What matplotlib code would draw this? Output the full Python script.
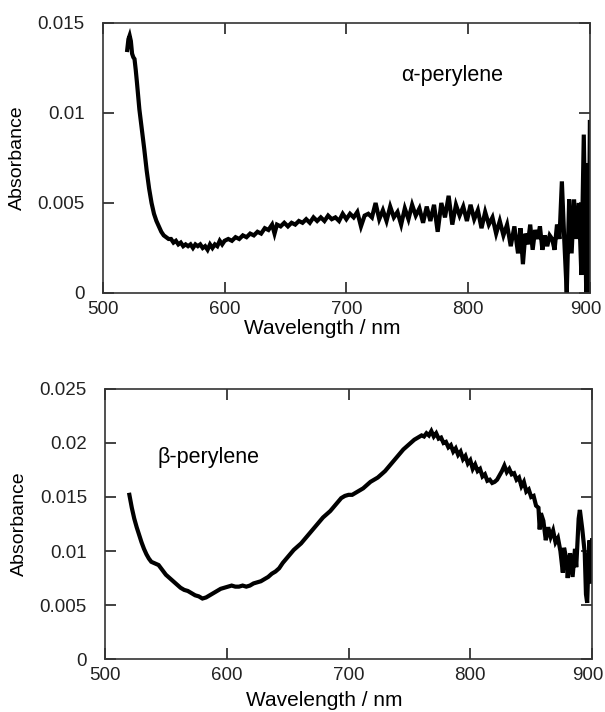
import matplotlib
matplotlib.use("Agg")
import matplotlib.pyplot as plt
import matplotlib.transforms as mtransforms
import numpy as np

plt.rcParams['font.family'] = ['Liberation Sans', 'DejaVu Sans']

# alpha-perylene spectrum
alpha_wl = [520, 521, 522, 523, 524, 525, 526, 527, 528, 530, 532, 534, 536, 538, 540,
            542, 544, 546, 548, 550, 552, 554, 556, 558, 560, 562, 564, 566, 568, 570,
            572, 574, 576, 578, 580, 582, 584, 586, 588, 590, 592, 594, 596, 598, 600,
            603, 606, 609, 612, 615, 618, 621, 624, 627, 630, 633, 636, 639, 641, 643,
            646, 649, 652, 655, 658, 661, 664, 667, 670, 673, 676, 679, 682, 685, 688,
            691, 694, 697, 700, 703, 706, 709, 712, 715, 718, 721, 724, 727, 730, 733,
            736, 739, 742, 745, 748, 751, 754, 757, 760, 763, 766, 769, 772, 775, 778,
            781, 784, 787, 790, 793, 796, 799, 802, 805, 808, 811, 814, 817, 820, 823,
            826, 829, 832, 835, 838, 841, 843, 845, 847, 849, 851, 853, 855, 857, 859,
            861, 863, 865, 867, 869, 871, 873, 875, 877, 879, 881, 883, 885, 887, 889,
            891, 893, 895, 897, 898, 899, 900]
alpha_abs = [0.0135, 0.0141, 0.0143, 0.0140, 0.0133, 0.0131, 0.0130, 0.0124, 0.0117, 0.0102,
             0.0091, 0.0080, 0.0068, 0.0058, 0.0050, 0.0044, 0.0040, 0.0037, 0.0034, 0.0032,
             0.0031, 0.0030, 0.0030, 0.0028, 0.0029, 0.0027, 0.0028, 0.0026, 0.0027, 0.0026,
             0.0027, 0.0025, 0.0027, 0.0026, 0.0027, 0.0025, 0.0026, 0.0024, 0.0027, 0.0025,
             0.0027, 0.0026, 0.0029, 0.0027, 0.0029, 0.0030, 0.0029, 0.0031, 0.0030, 0.0032,
             0.0031, 0.0033, 0.0032, 0.0034, 0.0033, 0.0036, 0.0035, 0.0038, 0.0033, 0.0038,
             0.0037, 0.0039, 0.0037, 0.0039, 0.0038, 0.0040, 0.0039, 0.0041, 0.0039, 0.0042,
             0.0040, 0.0042, 0.0040, 0.0043, 0.0041, 0.0042, 0.0040, 0.0044, 0.0041, 0.0044,
             0.0042, 0.0045, 0.0037, 0.0043, 0.0044, 0.0042, 0.0050, 0.0041, 0.0046, 0.0040,
             0.0048, 0.0042, 0.0045, 0.0038, 0.0047, 0.0041, 0.0049, 0.0043, 0.0047, 0.0039,
             0.0048, 0.0040, 0.0049, 0.0034, 0.0050, 0.0042, 0.0054, 0.0038, 0.0049, 0.0043,
             0.0048, 0.0040, 0.0049, 0.0041, 0.0046, 0.0036, 0.0045, 0.0038, 0.0042, 0.0033,
             0.0040, 0.0032, 0.0038, 0.0026, 0.0037, 0.0022, 0.0036, 0.0016, 0.0033, 0.0027,
             0.0038, 0.0024, 0.0035, 0.0030, 0.0037, 0.0024, 0.0032, 0.0026, 0.0032, 0.0030,
             0.0024, 0.0038, 0.0030, 0.0062, 0.0029, 0.0000, 0.0052, 0.0022, 0.0052, 0.0030,
             0.0050, 0.0010, 0.0088, 0.0000, 0.0072, 0.0000, 0.0095]

# beta-perylene spectrum
beta_wl = [520, 522, 524, 526, 528, 530, 532, 534, 536, 538, 540, 542, 544, 546, 548,
           550, 553, 556, 559, 562, 565, 568, 571, 574, 577, 580, 583, 586, 589, 592,
           595, 598, 601, 604, 607, 610, 613, 616, 619, 622, 625, 628, 631, 634, 637,
           640, 643, 646, 649, 652, 655, 658, 661, 664, 667, 670, 673, 676, 679, 682,
           685, 688, 691, 694, 697, 700, 703, 706, 709, 712, 715, 718, 721, 724, 727,
           730, 733, 736, 739, 742, 745, 748, 751, 754, 757, 760, 762, 764, 766, 768,
           770, 772, 774, 776, 778, 780, 782, 784, 786, 788, 790, 792, 794, 796, 798,
           800, 802, 804, 806, 808, 810, 812, 814, 816, 818, 820, 822, 824, 826, 828,
           830, 832, 834, 836, 838, 840, 842, 844, 846, 848, 850, 852, 854, 856, 857,
           858, 860, 862, 864, 866, 868, 870, 872, 874, 876, 877, 879, 880, 882, 884,
           886, 887, 889, 890, 892, 894, 895, 896, 897, 898, 899, 900]
beta_abs = [0.0152, 0.0140, 0.0130, 0.0122, 0.0115, 0.0108, 0.0102, 0.0097, 0.0093, 0.0090,
            0.0089, 0.0088, 0.0087, 0.0084, 0.0081, 0.0078, 0.0075, 0.0072, 0.0069, 0.0066,
            0.0064, 0.0063, 0.0061, 0.0059, 0.0058, 0.0056, 0.0057, 0.0059, 0.0061, 0.0063,
            0.0065, 0.0066, 0.0067, 0.0068, 0.0067, 0.0067, 0.0068, 0.0067, 0.0068, 0.0070,
            0.0071, 0.0072, 0.0074, 0.0076, 0.0079, 0.0081, 0.0084, 0.0089, 0.0093, 0.0097,
            0.0101, 0.0104, 0.0107, 0.0111, 0.0115, 0.0119, 0.0123, 0.0127, 0.0131, 0.0134,
            0.0137, 0.0141, 0.0145, 0.0149, 0.0151, 0.0152, 0.0152, 0.0154, 0.0156, 0.0158,
            0.0161, 0.0164, 0.0166, 0.0168, 0.0171, 0.0174, 0.0178, 0.0182, 0.0186, 0.0190,
            0.0194, 0.0197, 0.0200, 0.0203, 0.0205, 0.0207, 0.0206, 0.0209, 0.0207, 0.0211,
            0.0206, 0.0209, 0.0204, 0.0205, 0.0200, 0.0201, 0.0196, 0.0198, 0.0192, 0.0195,
            0.0189, 0.0192, 0.0185, 0.0188, 0.0181, 0.0184, 0.0176, 0.0180, 0.0174, 0.0176,
            0.0169, 0.0171, 0.0165, 0.0166, 0.0163, 0.0164, 0.0166, 0.0170, 0.0174, 0.0179,
            0.0173, 0.0176, 0.0171, 0.0172, 0.0166, 0.0168, 0.0160, 0.0164, 0.0155, 0.0157,
            0.0150, 0.0151, 0.0142, 0.0140, 0.0120, 0.0135, 0.0128, 0.0110, 0.0122, 0.0113,
            0.0119, 0.0108, 0.0112, 0.0100, 0.0080, 0.0103, 0.0092, 0.0075, 0.0098, 0.0076,
            0.0102, 0.0085, 0.0130, 0.0138, 0.0120, 0.0098, 0.0060, 0.0052, 0.0088, 0.0110,
            0.0070, 0.0110]

x_ticks = [500, 600, 700, 800, 900]
alpha_yticks = [0, 0.005, 0.01, 0.015]
beta_yticks = [0, 0.005, 0.01, 0.015, 0.02, 0.025]

fig = plt.figure(figsize=(6.05, 7.12), dpi=100)
ax1 = fig.add_axes([0.170, 0.5885, 0.805, 0.3792])
ax2 = fig.add_axes([0.1736, 0.0744, 0.805, 0.3793])


def style(ax, yticks, ymax, xlab_y):
    ax.set_xlim(500, 900)
    ax.set_ylim(0, ymax)
    ax.set_xticks(x_ticks)
    ax.set_xticklabels([str(t) for t in x_ticks])
    ax.set_yticks(yticks)
    ax.set_yticklabels(['%g' % t for t in yticks])
    ax.tick_params(direction='in', length=8, width=1.2, top=True, right=True,
                   labelsize=13.5, pad=6, colors='#222222')
    ax.tick_params(axis='y', pad=13)
    for s in ax.spines.values():
        s.set_linewidth(1.2)
        s.set_color('#333333')
    # last x label sits on the figure edge; nudge it left a bit
    lab = ax.get_xticklabels()[-1]
    lab.set_transform(lab.get_transform() +
                      mtransforms.ScaledTranslation(-4 / 100, 0, fig.dpi_scale_trans))
    ax.set_xlabel('Wavelength / nm', fontsize=15)
    ax.xaxis.set_label_coords(0.45, xlab_y)
    ax.set_ylabel('Absorbance', fontsize=14)
    ax.yaxis.set_label_coords(-0.158, 0.5)


ax1.plot(alpha_wl, alpha_abs, color='black', lw=3.0, solid_joinstyle='miter')
style(ax1, alpha_yticks, 0.015, -0.095)
ax1.text(787, 0.0121, u'\u03b1-perylene', fontsize=15.5, ha='center', va='center')

ax2.plot(beta_wl, beta_abs, color='black', lw=3.0, solid_joinstyle='miter')
style(ax2, beta_yticks, 0.025, -0.12)
ax2.text(585, 0.0187, u'\u03b2-perylene', fontsize=15.5, ha='center', va='center')

fig.savefig('out.png', dpi=100)
